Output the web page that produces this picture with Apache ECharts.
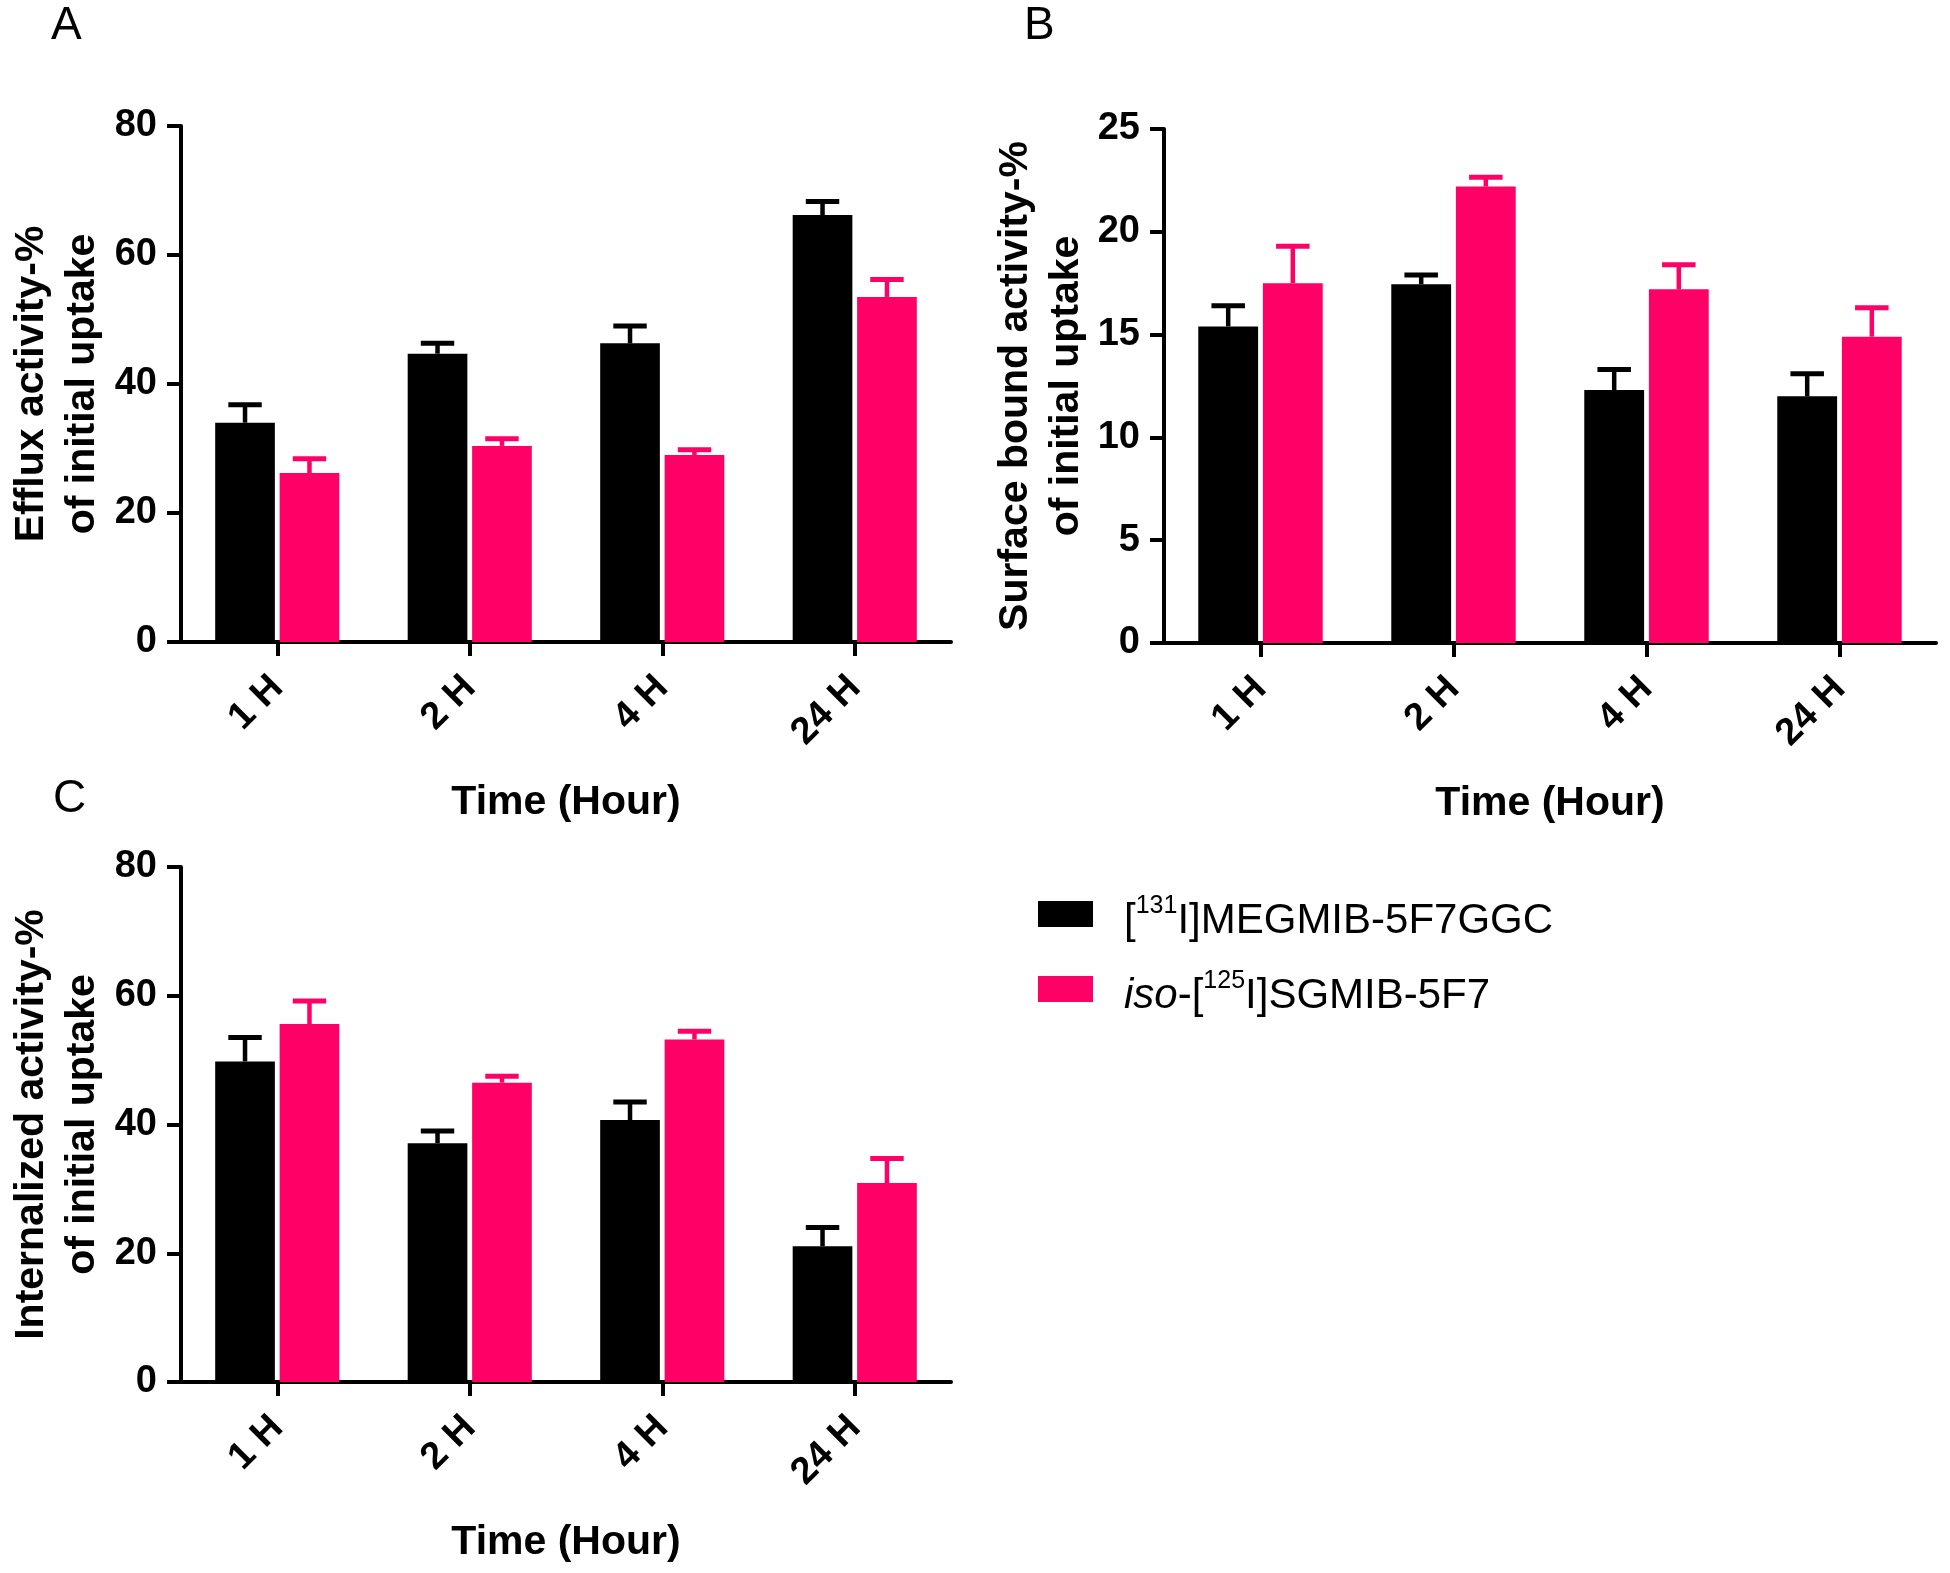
<!DOCTYPE html>
<html>
<head>
<meta charset="utf-8">
<script src="https://cdn.jsdelivr.net/npm/echarts@6/dist/echarts.min.js"></script>
<style>
html,body{margin:0;padding:0;background:#fff;}
#chart{width:1950px;height:1573px;}
</style>
</head>
<body>
<div id="chart"></div>
<script>
// ---- data ----
const categories = ['1 H', '2 H', '4 H', '24 H'];
const seriesNames = ['[131I]MEGMIB-5F7GGC', 'iso-[125I]SGMIB-5F7'];

// Panel A: Efflux activity (% of initial uptake)
const effluxMEG = [34.0, 44.7, 46.3, 66.2];
const effluxMEGSem = [2.8, 1.6, 2.7, 2.1];
const effluxSG = [26.2, 30.4, 29.0, 53.5];
const effluxSGSem = [2.2, 1.1, 0.8, 2.7];

// Panel B: Surface bound activity
const surfaceMEG = [15.4, 17.45, 12.3, 12.0];
const surfaceMEGSem = [1.0, 0.45, 1.0, 1.1];
const surfaceSG = [17.5, 22.2, 17.2, 14.9];
const surfaceSGSem = [1.8, 0.45, 1.2, 1.4];

// Panel C: Internalized activity
const internMEG = [49.8, 37.1, 40.7, 21.1];
const internMEGSem = [3.7, 1.9, 2.8, 2.9];
const internSG = [55.6, 46.5, 53.2, 30.9];
const internSGSem = [3.6, 1.0, 1.3, 3.8];

const yTitles = ['Efflux activity-%\nof initial uptake', 'Surface bound activity-%\nof initial uptake', 'Internalized activity-%\nof initial uptake'];
const xTitle = 'Time (Hour)';
const yMax = [80, 25, 80];
const yInterval = [20, 5, 20];
const panelLetters = ['A', 'B', 'C'];

// ---- styling ----
const FONT = '"Liberation Sans", Arial, sans-serif';
const BLACK = '#000000';
const PINK = '#ff0066';
const BAR_W = 0.31;   // fraction of band
const BAR_GAP = 0.08; // fraction of bar width
const yTitleFont = [41, 41, 41];
const yTitleLine = [51, 51, 51];
const yTitleGap = [73, 72, 73];

const chart = echarts.init(document.getElementById('chart'), null, {renderer: 'canvas'});

const grids = [
  {left: 181, top: 126, width: 770, height: 516},
  {left: 1164, top: 129, width: 772, height: 514},
  {left: 181, top: 867, width: 770, height: 515}
];

function makeXAxis(gi) {
  return {
    type: 'category', gridIndex: gi, data: categories,
    axisLine: {show: true, lineStyle: {color: BLACK, width: 4}},
    axisTick: {show: true, alignWithLabel: true, length: 14, lineStyle: {color: BLACK, width: 4}},
    axisLabel: {rotate: 45, margin: 40, fontSize: 38, fontWeight: 'bold', fontFamily: FONT, color: BLACK},
    splitLine: {show: false},
    name: xTitle, nameLocation: 'middle', nameGap: 140,
    nameTextStyle: {fontSize: 41, fontWeight: 'bold', fontFamily: FONT, color: BLACK}
  };
}
function makeYAxis(gi) {
  return {
    type: 'value', gridIndex: gi, min: 0, max: yMax[gi], interval: yInterval[gi],
    axisLine: {show: true, lineStyle: {color: BLACK, width: 4}},
    axisTick: {show: true, length: 14, lineStyle: {color: BLACK, width: 4}},
    axisLabel: {margin: 24, fontSize: 38, fontWeight: 'bold', fontFamily: FONT, color: BLACK},
    splitLine: {show: false},
    name: yTitles[gi], nameLocation: 'middle', nameGap: yTitleGap[gi],
    nameTextStyle: {fontSize: yTitleFont[gi], fontWeight: 'bold', fontFamily: FONT, color: BLACK, lineHeight: yTitleLine[gi]}
  };
}

function errRenderer(side) {
  return function (params, api) {
    const i = api.value(0), v = api.value(1), e = api.value(2);
    const base = api.coord([i, v]);
    const top = api.coord([i, v + e]);
    const band = api.size([1, 0])[0];
    const w = band * BAR_W;
    const gap = w * BAR_GAP;
    const x = base[0] + side * (w + gap) / 2;
    const capHalf = w * 0.28;
    const color = api.visual('color');
    return {
      type: 'group',
      children: [
        {type: 'line', shape: {x1: x, y1: base[1], x2: x, y2: top[1]}, style: {stroke: color, lineWidth: 4.5}},
        {type: 'line', shape: {x1: x - capHalf, y1: top[1], x2: x + capHalf, y2: top[1]}, style: {stroke: color, lineWidth: 5}}
      ]
    };
  };
}

const panels = [
  [effluxMEG, effluxMEGSem, effluxSG, effluxSGSem],
  [surfaceMEG, surfaceMEGSem, surfaceSG, surfaceSGSem],
  [internMEG, internMEGSem, internSG, internSGSem]
];

const series = [];
panels.forEach(function (p, gi) {
  const colors = [BLACK, PINK];
  [0, 1].forEach(function (k) {
    series.push({
      type: 'bar', name: seriesNames[k], xAxisIndex: gi, yAxisIndex: gi,
      data: p[k * 2], barWidth: (BAR_W * 100) + '%', barGap: (BAR_GAP * 100) + '%',
      itemStyle: {color: colors[k]}, z: 2
    });
  });
  [0, 1].forEach(function (k) {
    series.push({
      type: 'custom', name: 'err' + gi + '_' + k, xAxisIndex: gi, yAxisIndex: gi,
      renderItem: errRenderer(k === 0 ? -1 : 1),
      itemStyle: {color: colors[k]},
      data: p[k * 2].map(function (v, i) { return [i, v, p[k * 2 + 1][i]]; }),
      z: 3
    });
  });
});

const option = {
  backgroundColor: '#ffffff',
  animation: false,
  grid: grids,
  xAxis: [0, 1, 2].map(makeXAxis),
  yAxis: [0, 1, 2].map(makeYAxis),
  legend: {
    data: seriesNames,
    orient: 'vertical',
    left: 1038, top: 880, padding: 0,
    itemWidth: 55, itemHeight: 26, itemGap: 7,
    icon: 'rect',
    selectedMode: false,
    formatter: function (name) {
      return name === seriesNames[0] ? '[{sup|131}I]MEGMIB-5F7GGC' : '{it|iso}-[{sup|125}I]SGMIB-5F7';
    },
    textStyle: {
      fontSize: 42, fontFamily: FONT, color: BLACK, lineHeight: 54, padding: [14, 0, 0, 26],
      rich: {
        sup: {fontSize: 25, fontFamily: FONT, color: BLACK, verticalAlign: 'top', lineHeight: 16},
        it: {fontSize: 42, fontFamily: FONT, color: BLACK, fontStyle: 'italic', lineHeight: 54}
      }
    }
  },
  graphic: [
    {type: 'text', left: 51, top: 3, style: {text: panelLetters[0], fontSize: 46, fontFamily: FONT, fill: BLACK}},
    {type: 'text', left: 1024, top: 3, style: {text: panelLetters[1], fontSize: 46, fontFamily: FONT, fill: BLACK}},
    {type: 'text', left: 53, top: 776, style: {text: panelLetters[2], fontSize: 46, fontFamily: FONT, fill: BLACK}}
  ],
  series: series
};
chart.setOption(option);
</script>
</body>
</html>
